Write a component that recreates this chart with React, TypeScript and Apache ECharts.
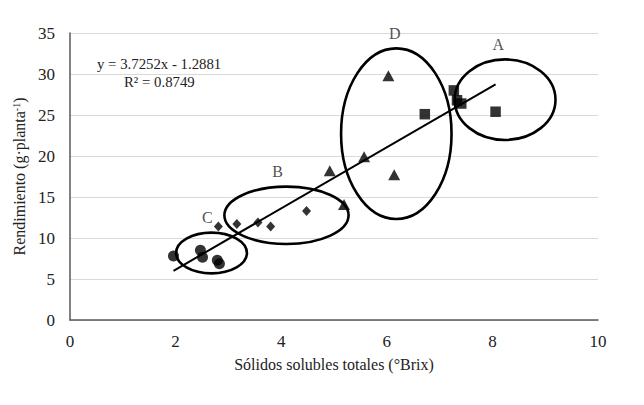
import React, { useEffect, useRef } from "react";
import * as echarts from "echarts";

const FONT = "Liberation Serif, Times New Roman, serif";

const groupA: number[][] = [
  [7.27, 28.0],
  [7.33, 26.8],
  [7.41, 26.4],
  [6.72, 25.1],
  [8.06, 25.4],
];
const groupB: number[][] = [
  [2.81, 11.4],
  [3.16, 11.7],
  [3.56, 11.9],
  [3.8, 11.4],
  [4.48, 13.3],
];
const groupC: number[][] = [
  [1.96, 7.8],
  [2.47, 8.5],
  [2.51, 7.65],
  [2.79, 7.3],
  [2.83, 6.85],
];
const groupD: number[][] = [
  [6.03, 29.8],
  [5.57, 19.9],
  [4.92, 18.2],
  [6.14, 17.7],
  [5.19, 14.1],
];
const trendLine: number[][] = [
  [1.96, 6.0],
  [8.06, 28.74],
];
// ellipse: [centerX, centerY, radiusX, radiusY] in data units
const ellipses: number[][] = [
  [8.24, 26.87, 0.955, 4.91],
  [6.18, 22.72, 1.046, 10.4],
  [4.1, 12.77, 1.176, 3.5],
  [2.68, 8.17, 0.671, 2.48],
];
const groupLabels: (string | number)[][] = [
  [8.11, 33.6, "A"],
  [6.15, 34.95, "D"],
  [3.93, 18.1, "B"],
  [2.6, 12.5, "C"],
];
const xTicks = { min: 0, max: 10, interval: 2 };
const yTicks = { min: 0, max: 35, interval: 5 };

export default function App() {
  const ref = useRef<HTMLDivElement>(null);
  useEffect(() => {
    if (!ref.current) return;
    const chart = echarts.init(ref.current, undefined, { renderer: "svg" });
    const scatterBase = {
      type: "scatter",
      itemStyle: { color: "#000" },
      z: 5,
    };
    const tickLabel = { fontFamily: FONT, fontSize: 17, color: "#222" };
    chart.setOption({
      animation: false,
      backgroundColor: "#fff",
      textStyle: { fontFamily: FONT },
      grid: { left: 70, right: 46, top: 33, bottom: 85 },
      xAxis: {
        type: "value",
        min: xTicks.min,
        max: xTicks.max,
        interval: xTicks.interval,
        name: "Sólidos solubles totales (°Brix)",
        nameLocation: "middle",
        nameGap: 36,
        nameTextStyle: { fontFamily: FONT, fontSize: 16, color: "#222" },
        axisLine: { show: true, lineStyle: { color: "#595959", width: 1.5 } },
        axisTick: { show: false },
        splitLine: { show: false },
        axisLabel: { ...tickLabel, margin: 13 },
      },
      yAxis: {
        type: "value",
        min: yTicks.min,
        max: yTicks.max,
        interval: yTicks.interval,
        name: "{a|Rendimiento (g·planta}{s|-1}{a|)}",
        nameLocation: "middle",
        nameGap: 43,
        nameTextStyle: {
          fontFamily: FONT,
          fontSize: 16,
          color: "#222",
          rich: {
            a: { fontFamily: FONT, fontSize: 16, color: "#222" },
            s: { fontFamily: FONT, fontSize: 10, color: "#222", verticalAlign: "top", padding: [0, 0, 6, 0] },
          },
        },
        axisLine: { show: true, lineStyle: { color: "#595959", width: 1.5 } },
        axisTick: { show: false },
        splitLine: { show: true, lineStyle: { color: "#d9d9d9", width: 1 } },
        axisLabel: { ...tickLabel, margin: 15 },
      },
      graphic: [
        {
          type: "text",
          left: 97,
          top: 56,
          style: {
            text: "y = 3.7252x - 1.2881",
            font: `14.8px ${FONT}`,
            fill: "#222",
          },
        },
        {
          type: "text",
          left: 124,
          top: 74,
          style: {
            text: "R² = 0.8749",
            font: `14.8px ${FONT}`,
            fill: "#222",
          },
        },
      ],
      series: [
        {
          type: "line",
          data: trendLine,
          showSymbol: false,
          symbol: "none",
          lineStyle: { color: "#000", width: 2 },
          z: 4,
        },
        { ...scatterBase, data: groupA, symbol: "rect", symbolSize: 10.5 },
        { ...scatterBase, data: groupB, symbol: "diamond", symbolSize: [9, 10] },
        { ...scatterBase, data: groupC, symbol: "circle", symbolSize: 11 },
        { ...scatterBase, data: groupD, symbol: "triangle", symbolSize: [12, 11] },
        {
          type: "custom",
          data: ellipses,
          z: 3,
          renderItem: (params: any, api: any) => {
            const c = api.coord([api.value(0), api.value(1)]);
            const s = api.size([api.value(2), api.value(3)]);
            return {
              type: "ellipse",
              shape: { cx: c[0], cy: c[1], rx: s[0], ry: s[1] },
              style: { fill: "none", stroke: "#000", lineWidth: 2.6 },
            };
          },
        },
        {
          type: "scatter",
          data: groupLabels,
          symbolSize: 1,
          itemStyle: { color: "transparent" },
          label: {
            show: true,
            position: "inside",
            formatter: (p: any) => p.value[2],
            fontFamily: FONT,
            fontSize: 16,
            color: "#222",
          },
        },
      ],
    });
    return () => chart.dispose();
  }, []);
  return <div ref={ref} style={{ width: 644, height: 405, margin: -8 }} />;
}
